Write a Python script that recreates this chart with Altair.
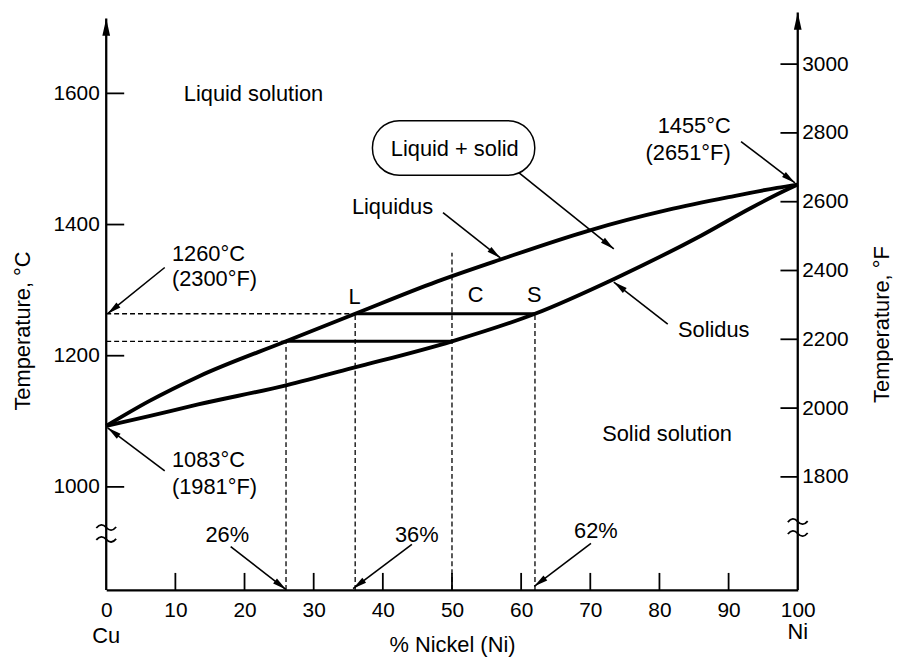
import math
import altair as alt
import pandas as pd

# ---------------- data ----------------
liq_x = [0, 6.2, 13.3, 26, 36, 47.8, 56.8, 69.7, 81.2, 90.8, 97, 100]
liq_t = [1093, 1130.7, 1168, 1222, 1264, 1313, 1346, 1390.5, 1422.2, 1443.4, 1456, 1461]

sol_x = [0, 6.2, 13.3, 26, 35.8, 50, 62, 73.6, 86, 93.3, 98, 100]
sol_t = [1093, 1108, 1125.7, 1154.9, 1181.7, 1222, 1264, 1317.9, 1383, 1425.7, 1451, 1461]

tie_t = [1264, 1222]
tie_x1 = [36, 26]
tie_x2 = [62, 50]

hdash_t = [1264, 1222]
hdash_x2 = [36, 26]

vdash_x = [26, 36, 50, 62]
vdash_top = [1222, 1264, 1357, 1264]

x_tick_vals = [10, 20, 30, 40, 50, 60, 70, 80, 90]
x_label_vals = [0, 10, 20, 30, 40, 50, 60, 70, 80, 90, 100]
c_tick_vals = [1000, 1200, 1400, 1600]
f_tick_vals = [1800, 2000, 2200, 2400, 2600, 2800, 3000]

# arrows: start (x1,t1) -> tip (x2,t2)
arr_x1 = [8.46, 8.46, 91.8, 59.7, 48.7, 81.2, 18.0, 44.2, 70.1]
arr_t1 = [1334.5, 1024.4, 1526.6, 1478.7, 1418.2, 1248.3, 908.9, 912.4, 913.9]
arr_x2 = [0.2, 0.2, 99.6, 73.4, 57.0, 73.4, 26.0, 35.7, 61.9]
arr_t2 = [1264, 1090, 1463.5, 1362.8, 1349, 1312.3, 843.5, 845, 848.4]

txt_c_label = ["Liquid solution", "Liquid + solid", "Liquidus", "Solidus", "Solid solution",
               "L", "C", "S", "26%", "36%", "62%", "Cu", "Ni"]
txt_c_x = [21.3, 50.4, 41.4, 87.85, 81.1, 35.9, 53.4, 61.9, 17.5, 44.9, 70.8, 0, 100]
txt_c_t = [1588.7, 1503.9, 1416.6, 1229, 1070.2, 1278.5, 1282, 1282, 916.5, 916.5, 921.5, 762.6, 767.5]

txt_l_label = ["1260°C", "(2300°F)", "1083°C", "(1981°F)"]
txt_l_x = [9.5, 9.5, 9.5, 9.5]
txt_l_t = [1345, 1305.7, 1030, 989.6]

txt_r_label = ["1455°C", "(2651°F)"]
txt_r_x = [90.3, 90.3]
txt_r_t = [1539.2, 1497.9]

box_x1, box_x2, box_t1, box_t2 = [38.5], [61.97], [1558.4], [1475.2]

brk_x = [0, 100]
brk_t = [929, 938]

# ---------------- layout ----------------
W, H = 697, 578
X_DOM = [0, 100]
C_DOM = [842.8, 1717.2]
F_DOM = [1471.2, 3138.4]
PX_X = W / (X_DOM[1] - X_DOM[0])
PX_Y = H / (C_DOM[1] - C_DOM[0])
BOTTOM = C_DOM[0]
FONT = "Liberation Sans"

xs = alt.Scale(domain=X_DOM, nice=False, zero=False)
cs = alt.Scale(domain=C_DOM, nice=False, zero=False)
fs = alt.Scale(domain=F_DOM, nice=False, zero=False)

x_axis = alt.Axis(values=x_label_vals, title="% Nickel (Ni)", ticks=False, tickSize=0, grid=False,
                  domain=True, domainColor="black", domainWidth=2.3, labelFont=FONT, labelFontSize=21,
                  labelColor="black", labelPadding=27, labelBaseline="alphabetic", labelOverlap=False,
                  labelFlush=False, format="d", titleFont=FONT, titleFontSize=22,
                  titleFontWeight="normal", titleColor="black", titleY=62, titleBaseline="alphabetic")

c_axis = alt.Axis(orient="left", values=c_tick_vals, title="Temperature, °C", ticks=False, tickSize=0,
                  domain=False, grid=False, labelFont=FONT, labelFontSize=21, labelColor="black",
                  labelPadding=7, labelOverlap=False, format="d", titleFont=FONT, titleFontSize=22,
                  titleFontWeight="normal", titleColor="black", titleAngle=270, titleX=-77,
                  titleY=316.5, titleBaseline="alphabetic", titleAlign="center")

f_axis = alt.Axis(orient="right", values=f_tick_vals, title="Temperature, °F", ticks=False, tickSize=0,
                  domain=False, grid=False, labelFont=FONT, labelFontSize=21, labelColor="black",
                  labelPadding=4, labelOverlap=False, format="d", titleFont=FONT, titleFontSize=22,
                  titleFontWeight="normal", titleColor="black", titleAngle=270, titleX=91,
                  titleY=310, titleBaseline="alphabetic", titleAlign="center")


def X(f):
    return alt.X(f, type="quantitative", scale=xs, axis=x_axis)


def X2(f):
    return alt.X2(f)


def Y(f):
    return alt.Y(f, type="quantitative", scale=cs, axis=c_axis)


# curves
curve_df = pd.DataFrame({
    "x": liq_x + sol_x,
    "t": liq_t + sol_t,
    "curve": ["liquidus"] * len(liq_x) + ["solidus"] * len(sol_x),
})
curves = alt.Chart(curve_df).mark_line(color="black", strokeWidth=3.9, interpolate="monotone").encode(
    x=X("x"), y=Y("t"), detail="curve:N")

tie_df = pd.DataFrame({"x1": tie_x1, "x2": tie_x2, "t": tie_t})
ties = alt.Chart(tie_df).mark_rule(color="black", strokeWidth=3).encode(
    x=X("x1"), x2=X2("x2"), y=Y("t"))

hd_df = pd.DataFrame({"x1": [0] * len(hdash_t), "x2": hdash_x2, "t": hdash_t})
hdash = alt.Chart(hd_df).mark_rule(color="black", strokeWidth=1.3, strokeDash=[5, 3]).encode(
    x=X("x1"), x2=X2("x2"), y=Y("t"))

vd_df = pd.DataFrame({"x": vdash_x, "t1": [BOTTOM] * len(vdash_x), "t2": vdash_top})
vdash = alt.Chart(vd_df).mark_rule(color="black", strokeWidth=1.3, strokeDash=[5, 3]).encode(
    x=X("x"), y=Y("t1"), y2=alt.Y2("t2"))

# inward ticks
xt_df = pd.DataFrame({"x": x_tick_vals, "t1": [BOTTOM] * len(x_tick_vals),
                      "t2": [BOTTOM + 26] * len(x_tick_vals)})
xticks = alt.Chart(xt_df).mark_rule(color="black", strokeWidth=1.8).encode(
    x=X("x"), y=Y("t1"), y2=alt.Y2("t2"))

ct_df = pd.DataFrame({"x1": [0] * len(c_tick_vals), "x2": [2.6] * len(c_tick_vals), "t": c_tick_vals})
cticks = alt.Chart(ct_df).mark_rule(color="black", strokeWidth=1.8).encode(
    x=X("x1"), x2=X2("x2"), y=Y("t"))

# axis lines with arrow heads
ax_df = pd.DataFrame({"x": [0, 100], "t1": [BOTTOM, BOTTOM], "t2": [1714.2, 1723.3]})
axlines = alt.Chart(ax_df).mark_rule(color="black", strokeWidth=2.3).encode(
    x=X("x"), y=Y("t1"), y2=alt.Y2("t2"))
axheads = alt.Chart(ax_df).mark_point(shape="M0,0L0.45,2L-0.45,2Z", filled=True, size=300,
                                      color="black", opacity=1, strokeWidth=0).encode(
    x=X("x"), y=Y("t2"))

# arrows
angs = []
for a, b, c, d in zip(arr_x1, arr_t1, arr_x2, arr_t2):
    dx = (c - a) * PX_X
    dy = -(d - b) * PX_Y
    angs.append(math.degrees(math.atan2(dx, -dy)) % 360)
arr_df = pd.DataFrame({"x1": arr_x1, "t1": arr_t1, "x2": arr_x2, "t2": arr_t2, "ang": angs})
arrlines = alt.Chart(arr_df).mark_rule(color="black", strokeWidth=1.6).encode(
    x=X("x1"), y=Y("t1"), x2=X2("x2"), y2=alt.Y2("t2"))
arrheads = alt.Chart(arr_df).mark_point(shape="M0,0L0.45,2L-0.45,2Z", filled=True, size=196,
                                        color="black", opacity=1, strokeWidth=0).encode(
    x=X("x2"), y=Y("t2"), angle=alt.Angle("ang", type="quantitative", scale=None))

# rounded box
box_df = pd.DataFrame({"x1": box_x1, "x2": box_x2, "t1": box_t1, "t2": box_t2})
box = alt.Chart(box_df).mark_rect(filled=False, color="black", strokeWidth=1.5, cornerRadius=27).encode(
    x=X("x1"), x2=X2("x2"), y=Y("t1"), y2=alt.Y2("t2"))


# texts
def text_layer(labels, xs_, ts_, align):
    df = pd.DataFrame({"label": labels, "x": xs_, "t": ts_})
    return alt.Chart(df).mark_text(font=FONT, fontSize=22, color="black", align=align,
                                   baseline="alphabetic").encode(
        x=X("x"), y=Y("t"), text="label:N")


txt_c = text_layer(txt_c_label, txt_c_x, txt_c_t, "center")
txt_l = text_layer(txt_l_label, txt_l_x, txt_l_t, "left")
txt_r = text_layer(txt_r_label, txt_r_x, txt_r_t, "right")

# axis-break marks: two stacked wavy strokes drawn as a symbol shape
BREAK_SHAPE = "M-1,-0.55Q-0.5,-1.15 0,-0.6T1,-0.65M-1,0.65Q-0.5,0.05 0,0.6T1,0.55"
brk_df = pd.DataFrame({"x": brk_x, "t": brk_t})
brk = alt.Chart(brk_df).mark_point(shape=BREAK_SHAPE, filled=False, size=400, color="black",
                                   opacity=1, strokeWidth=1.8).encode(x=X("x"), y=Y("t"))

c_layers = alt.layer(curves, ties, hdash, vdash, xticks, cticks, axlines, axheads,
                     arrlines, arrheads, box, txt_c, txt_l, txt_r, brk)

# Fahrenheit axis layer
ft_df = pd.DataFrame({"x1": [97.5] * len(f_tick_vals), "x2": [100] * len(f_tick_vals), "f": f_tick_vals})
f_layer = alt.Chart(ft_df).mark_rule(color="black", strokeWidth=1.8).encode(
    x=X("x1"), x2=X2("x2"),
    y=alt.Y("f", type="quantitative", scale=fs, axis=f_axis))

chart = alt.layer(c_layers, f_layer).resolve_scale(y="independent").properties(
    width=W, height=H,
    autosize=alt.AutoSizeParams(type="none"),
    padding={"left": 99, "top": 6, "right": 96, "bottom": 68},
    background="white",
).configure_view(stroke=None)

chart.save("out.html", embed_options={"renderer": "svg", "actions": False})
